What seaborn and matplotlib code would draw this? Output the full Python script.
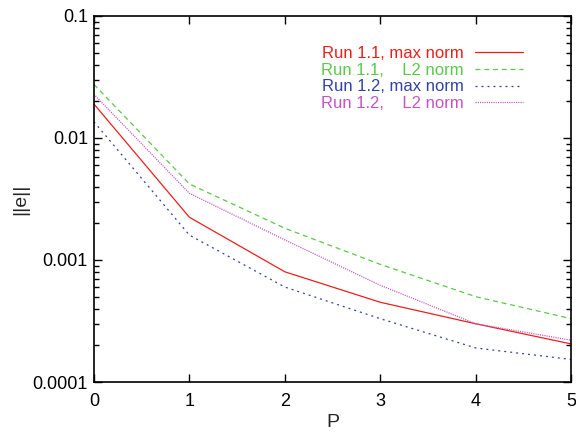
import matplotlib
matplotlib.use("Agg")
import matplotlib.pyplot as plt
import matplotlib.ticker as mticker
import numpy as np
import pandas as pd
import seaborn as sns

# Error norms versus polynomial order P
p_values = [0, 1, 2, 3, 4, 5]
run11_max = [0.0190, 0.00224, 0.00080, 0.00045, 0.00030, 0.000205]
run11_l2 = [0.0275, 0.00420, 0.00182, 0.00092, 0.00050, 0.00033]
run12_max = [0.0136, 0.00160, 0.00060, 0.00033, 0.00019, 0.000153]
run12_l2 = [0.0228, 0.00352, 0.00146, 0.00062, 0.00030, 0.00022]

series_names = ["Run 1.1, max norm", "Run 1.1,    L2 norm",
                "Run 1.2, max norm", "Run 1.2,    L2 norm"]
series_values = [run11_max, run11_l2, run12_max, run12_l2]
colors = ["#e8201c", "#5cc84a", "#3242a2", "#c454c4"]
dash_styles = [(None, None), (4.0, 3.0), (1.6, 3.2), (0.9, 0.9)]

y_ticks = [0.0001, 0.001, 0.01, 0.1]
y_tick_labels = ["0.0001", "0.001", "0.01", "0.1"]

df = pd.concat(
    [pd.DataFrame({"P": p_values, "err": vals, "series": name})
     for name, vals in zip(series_names, series_values)],
    ignore_index=True,
)

sns.set_style("ticks")
plt.rcParams["font.family"] = ["Liberation Sans", "DejaVu Sans"]

fig = plt.figure(figsize=(5.76, 4.34), dpi=100)
ax = fig.add_axes([0.163, 0.1198, 0.829, 0.8434])

dashes = {}
for name, d in zip(series_names, dash_styles):
    dashes[name] = "" if d[0] is None else d

sns.lineplot(
    data=df, x="P", y="err", hue="series", style="series",
    hue_order=series_names, style_order=series_names,
    palette=colors, dashes=dashes, linewidth=0.9,
    legend=False, ax=ax,
)

ax.set_yscale("log")
ax.set_xlim(0, 5)
ax.set_ylim(1e-4, 0.1)
ax.set_xticks(p_values)
ax.set_xticklabels([str(p) for p in p_values])
ax.set_yticks(y_ticks)
ax.set_yticklabels(y_tick_labels)
ax.yaxis.set_minor_locator(mticker.LogLocator(base=10, subs=np.arange(2, 10)))
ax.yaxis.set_minor_formatter(mticker.NullFormatter())

ax.tick_params(which="both", direction="in", top=True, right=True,
               labelsize=13, colors="black", width=1.0)
ax.tick_params(which="major", length=6)
ax.tick_params(which="minor", length=3.5)
ax.tick_params(axis="x", which="major", pad=8.0)
ax.tick_params(axis="y", which="major", pad=4.3)
for spine in ax.spines.values():
    spine.set_visible(True)
    spine.set_linewidth(1.2)
    spine.set_color("black")

ax.set_xlabel("P", fontsize=14, labelpad=3.0)
ax.set_ylabel("||e||", fontsize=14, labelpad=2.5)

lines = ax.get_lines()[:len(series_names)]
leg = ax.legend(
    handles=lines, labels=series_names, loc="upper right",
    bbox_to_anchor=(0.913, 0.936), frameon=False, fontsize=12,
    markerfirst=False, labelcolor="linecolor", handlelength=2.9,
    handletextpad=0.65, labelspacing=0.1, borderaxespad=0.0,
)

fig.savefig("out.png", dpi=100)
